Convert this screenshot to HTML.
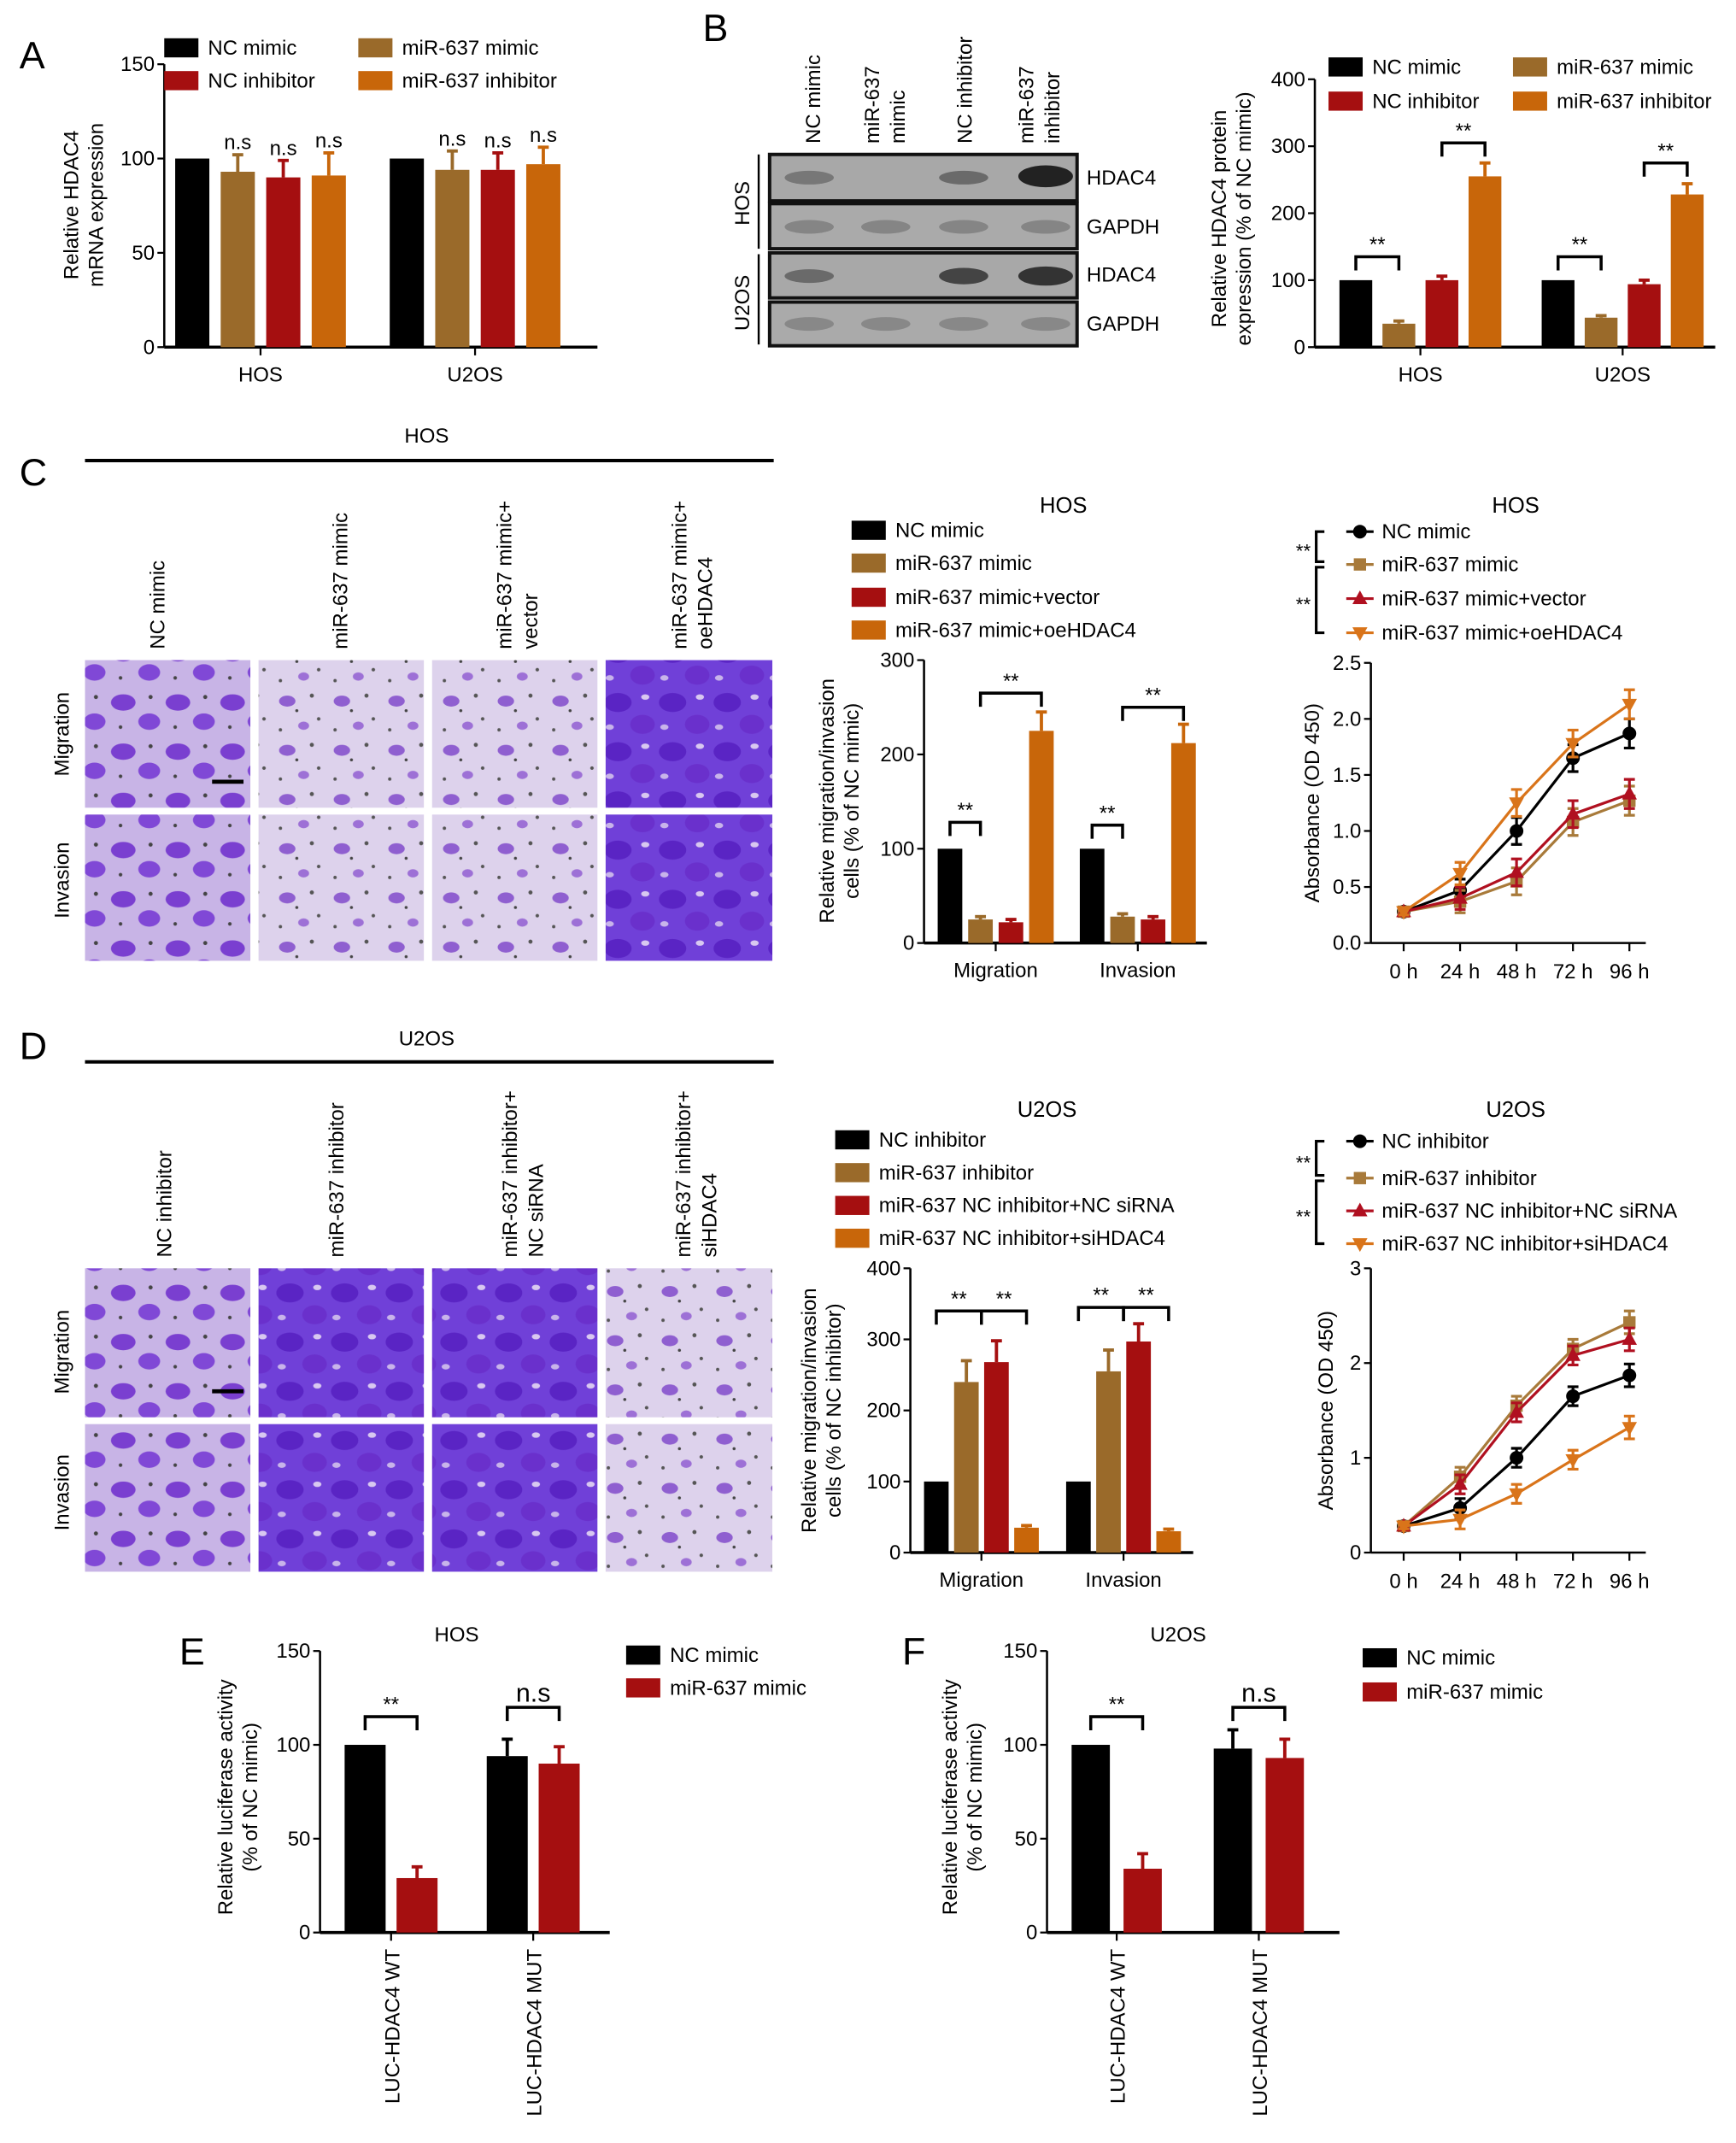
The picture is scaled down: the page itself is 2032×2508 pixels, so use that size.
<!DOCTYPE html>
<html><head><meta charset="utf-8"><style>
html,body{margin:0;padding:0;background:#fff;}
svg{display:block;font-family:"Liberation Sans",Arial,sans-serif;}
</style></head><body>
<svg id="fig" width="2032" height="2508" viewBox="0 0 1270 1568" xmlns="http://www.w3.org/2000/svg">
<defs>
<pattern id="cellsLight" width="40" height="36" patternUnits="userSpaceOnUse">
<rect width="40" height="36" fill="#ddd2ec"/>
<ellipse cx="10" cy="9" rx="6" ry="4" fill="#8f5fd0"/><circle cx="28" cy="5" r="1.5" fill="#555"/>
<circle cx="33" cy="22" r="1.3" fill="#555"/><ellipse cx="22" cy="27" rx="4" ry="3" fill="#9d70d6"/>
<circle cx="5" cy="30" r="1.2" fill="#555"/><circle cx="17" cy="16" r="1.1" fill="#444"/>
</pattern>
<pattern id="cellsMed" width="40" height="36" patternUnits="userSpaceOnUse">
<rect width="40" height="36" fill="#c8b4e6"/>
<ellipse cx="10" cy="10" rx="9" ry="6" fill="#7a3fd0"/><ellipse cx="29" cy="24" rx="8" ry="6" fill="#8048d6"/>
<circle cx="30" cy="6" r="1.5" fill="#444"/><circle cx="8" cy="28" r="1.3" fill="#444"/>
</pattern>
<pattern id="cellsDark" width="40" height="36" patternUnits="userSpaceOnUse">
<rect width="40" height="36" fill="#7040d8"/>
<ellipse cx="12" cy="10" rx="10" ry="7" fill="#5a24c4"/><ellipse cx="30" cy="26" rx="9" ry="7" fill="#6a30cc"/>
<ellipse cx="32" cy="6" rx="3" ry="2" fill="#d8c8f0"/><ellipse cx="6" cy="28" rx="3" ry="2" fill="#c8b4ea"/>
</pattern>
</defs>

<!-- panel letters -->
<text x="14" y="50" font-size="28">A</text>
<text x="514" y="30" font-size="28">B</text>
<text x="14" y="355" font-size="28">C</text>
<text x="14" y="775" font-size="28">D</text>
<text x="131" y="1218" font-size="28">E</text>
<text x="660" y="1218" font-size="28">F</text>

<!-- Western blot -->
<g font-size="15">
<g font-size="15">
<text transform="translate(600,105) rotate(-90)">NC mimic</text>
<text transform="translate(643,105) rotate(-90)">miR-637</text>
<text transform="translate(662,105) rotate(-90)">mimic</text>
<text transform="translate(711,105) rotate(-90)">NC inhibitor</text>
<text transform="translate(756,105) rotate(-90)">miR-637</text>
<text transform="translate(775,105) rotate(-90)">inhibitor</text>
</g>
<line x1="555" y1="113" x2="555" y2="182" stroke="#000" stroke-width="1.5"/>
<line x1="555" y1="186" x2="555" y2="252" stroke="#000" stroke-width="1.5"/>
<text transform="translate(548,165) rotate(-90)">HOS</text>
<text transform="translate(548,242) rotate(-90)">U2OS</text>
<rect x="563" y="113" width="225" height="34" fill="#a8a8a8" stroke="#111" stroke-width="2.5"/>
<rect x="563" y="149" width="225" height="33" fill="#aaa" stroke="#111" stroke-width="2.5"/>
<rect x="563" y="185" width="225" height="33" fill="#a8a8a8" stroke="#111" stroke-width="2.5"/>
<rect x="563" y="221" width="225" height="32" fill="#aaa" stroke="#111" stroke-width="2.5"/>
<ellipse cx="592" cy="130" rx="18" ry="5" fill="#777"/><ellipse cx="705" cy="130" rx="18" ry="5" fill="#6a6a6a"/><ellipse cx="765" cy="129" rx="20" ry="8" fill="#222"/>
<ellipse cx="592" cy="166" rx="18" ry="5" fill="#858585"/><ellipse cx="648" cy="166" rx="18" ry="5" fill="#858585"/><ellipse cx="705" cy="166" rx="18" ry="5" fill="#858585"/><ellipse cx="765" cy="166" rx="18" ry="5" fill="#858585"/>
<ellipse cx="592" cy="202" rx="18" ry="5" fill="#6a6a6a"/><ellipse cx="705" cy="202" rx="18" ry="6" fill="#444"/><ellipse cx="765" cy="202" rx="20" ry="7" fill="#333"/>
<ellipse cx="592" cy="237" rx="18" ry="5" fill="#888"/><ellipse cx="648" cy="237" rx="18" ry="5" fill="#888"/><ellipse cx="705" cy="237" rx="18" ry="5" fill="#888"/><ellipse cx="765" cy="237" rx="18" ry="5" fill="#888"/>
<text x="795" y="135">HDAC4</text>
<text x="795" y="171">GAPDH</text>
<text x="795" y="206">HDAC4</text>
<text x="795" y="242">GAPDH</text>
</g>

<!-- Panel C images -->
<g font-size="15">
<text x="312" y="324" text-anchor="middle">HOS</text>
<line x1="62" y1="337" x2="566" y2="337" stroke="#000" stroke-width="2.5"/>
<text transform="translate(120,475) rotate(-90)">NC mimic</text>
<text transform="translate(254,475) rotate(-90)">miR-637 mimic</text>
<text transform="translate(374,475) rotate(-90)">miR-637 mimic+</text>
<text transform="translate(393,475) rotate(-90)">vector</text>
<text transform="translate(502,475) rotate(-90)">miR-637 mimic+</text>
<text transform="translate(521,475) rotate(-90)">oeHDAC4</text>
<text transform="translate(50,568) rotate(-90)">Migration</text>
<text transform="translate(50,672) rotate(-90)">Invasion</text>
<rect x="62" y="483" width="121" height="108" fill="url(#cellsMed)"/>
<rect x="189" y="483" width="121" height="108" fill="url(#cellsLight)"/>
<rect x="316" y="483" width="121" height="108" fill="url(#cellsLight)"/>
<rect x="443" y="483" width="122" height="108" fill="url(#cellsDark)"/>
<rect x="62" y="596" width="121" height="107" fill="url(#cellsMed)"/>
<rect x="189" y="596" width="121" height="107" fill="url(#cellsLight)"/>
<rect x="316" y="596" width="121" height="107" fill="url(#cellsLight)"/>
<rect x="443" y="596" width="122" height="107" fill="url(#cellsDark)"/>
<line x1="155" y1="572" x2="178" y2="572" stroke="#000" stroke-width="3"/>
</g>

<!-- Panel D images -->
<g font-size="15">
<text x="312" y="765" text-anchor="middle">U2OS</text>
<line x1="62" y1="777" x2="566" y2="777" stroke="#000" stroke-width="2.5"/>
<text transform="translate(125,920) rotate(-90)">NC inhibitor</text>
<text transform="translate(251,920) rotate(-90)">miR-637 inhibitor</text>
<text transform="translate(378,920) rotate(-90)">miR-637 inhibitor+</text>
<text transform="translate(397,920) rotate(-90)">NC siRNA</text>
<text transform="translate(505,920) rotate(-90)">miR-637 inhibitor+</text>
<text transform="translate(524,920) rotate(-90)">siHDAC4</text>
<text transform="translate(50,1020) rotate(-90)">Migration</text>
<text transform="translate(50,1120) rotate(-90)">Invasion</text>
<rect x="62" y="928" width="121" height="109" fill="url(#cellsMed)"/>
<rect x="189" y="928" width="121" height="109" fill="url(#cellsDark)"/>
<rect x="316" y="928" width="121" height="109" fill="url(#cellsDark)"/>
<rect x="443" y="928" width="122" height="109" fill="url(#cellsLight)"/>
<rect x="62" y="1042" width="121" height="108" fill="url(#cellsMed)"/>
<rect x="189" y="1042" width="121" height="108" fill="url(#cellsDark)"/>
<rect x="316" y="1042" width="121" height="108" fill="url(#cellsDark)"/>
<rect x="443" y="1042" width="122" height="108" fill="url(#cellsLight)"/>
<line x1="155" y1="1018" x2="178" y2="1018" stroke="#000" stroke-width="3"/>
</g>
</svg>

<script>
// ---------- data ----------
var colorsA = ['#000000', '#9a6a2a', '#a50f10', '#c8660a'];
var namesA = ['NC mimic', 'NC inhibitor', 'miR-637 mimic', 'miR-637 inhibitor'];
var catsA = ['HOS', 'U2OS'];
var valsA = [[100, 93, 90, 91], [100, 94, 94, 97]];
var errsA = [[0, 9, 9, 12], [0, 10, 9, 9]];
var ticksA = [0, 50, 100, 150];

var catsB = ['HOS', 'U2OS'];
var valsB = [[100, 35, 100, 255], [100, 44, 94, 228]];
var errsB = [[0, 4, 6, 20], [0, 3, 6, 16]];
var ticksB = [0, 100, 200, 300, 400];

var namesC = ['NC mimic', 'miR-637 mimic', 'miR-637 mimic+vector', 'miR-637 mimic+oeHDAC4'];
var catsC = ['Migration', 'Invasion'];
var valsC = [[100, 25, 22, 225], [100, 28, 25, 212]];
var errsC = [[0, 3, 3, 20], [0, 3, 3, 20]];
var ticksC = [0, 100, 200, 300];

var timesC = ['0 h', '24 h', '48 h', '72 h', '96 h'];
var lineC_nc = [0.28, 0.47, 1.0, 1.65, 1.87];
var lineC_mimic = [0.28, 0.37, 0.55, 1.08, 1.27];
var lineC_vector = [0.28, 0.40, 0.63, 1.15, 1.33];
var lineC_oe = [0.28, 0.62, 1.25, 1.78, 2.13];
var lineC_err = [0.03, 0.1, 0.12, 0.12, 0.13];
var ticksLC = [0.0, 0.5, 1.0, 1.5, 2.0, 2.5];

var namesD = ['NC inhibitor', 'miR-637 inhibitor', 'miR-637 NC inhibitor+NC siRNA', 'miR-637 NC inhibitor+siHDAC4'];
var catsD = ['Migration', 'Invasion'];
var valsD = [[100, 240, 268, 35], [100, 255, 297, 30]];
var errsD = [[0, 30, 30, 3], [0, 30, 25, 3]];
var ticksD = [0, 100, 200, 300, 400];

var lineD_nc = [0.28, 0.47, 1.0, 1.65, 1.87];
var lineD_inh = [0.28, 0.80, 1.55, 2.15, 2.43];
var lineD_sinc = [0.28, 0.72, 1.48, 2.08, 2.25];
var lineD_si = [0.28, 0.35, 0.62, 0.98, 1.32];
var lineD_err = [0.03, 0.1, 0.1, 0.1, 0.12];
var ticksLD = [0, 1, 2, 3];

var namesE = ['NC mimic', 'miR-637 mimic'];
var catsE = ['LUC-HDAC4 WT', 'LUC-HDAC4 MUT'];
var valsE = [[100, 29], [94, 90]];
var errsE = [[0, 6], [9, 9]];
var valsF = [[100, 34], [98, 93]];
var errsF = [[0, 8], [10, 10]];
var ticksE = [0, 50, 100, 150];

// ---------- helpers ----------
var svg = document.getElementById('fig');
var NS = 'http://www.w3.org/2000/svg';
function mk(tag, attrs, parent) {
  var el = document.createElementNS(NS, tag);
  for (var k in attrs) el.setAttribute(k, attrs[k]);
  (parent || svg).appendChild(el);
  return el;
}
function txt(x, y, s, size, anchor, parent, rot) {
  var t = mk('text', {x: x, y: y, 'font-size': size, 'text-anchor': anchor || 'start'}, parent);
  if (rot) { t.setAttribute('transform', 'rotate(' + rot + ' ' + x + ' ' + y + ')'); }
  t.textContent = s;
  return t;
}

function barChart(o) {
  var g = mk('g', {});
  
  
  var sy = function (v) { return o.y0 - (v / o.yMax) * (o.y0 - o.yTop); };
  var bx = function (gi, i) { return o.first + gi * o.groupGap + i * o.step; };
  mk('line', {x1: o.ax, y1: o.yTop, x2: o.ax, y2: o.y0, stroke: '#000', 'stroke-width': 1.6}, g);
  mk('line', {x1: o.ax, y1: o.y0, x2: o.axEnd, y2: o.y0, stroke: '#000', 'stroke-width': 2.2}, g);
  o.ticks.forEach(function (t) {
    var y = sy(t);
    mk('line', {x1: o.ax - 5, y1: y, x2: o.ax, y2: y, stroke: '#000', 'stroke-width': 1.4}, g);
    var tl = txt(o.ax - 7, y + 5, String(t), o.fs, 'end', g);
    
    
  });
  o.vals.forEach(function (grp, gi) {
    var n = grp.length;
    var cx = (bx(gi, 0) + bx(gi, n - 1) + o.w) / 2;
    mk('line', {x1: cx, y1: o.y0, x2: cx, y2: o.y0 + 6, stroke: '#000', 'stroke-width': 1.4}, g);
    var cl;
    if (o.rotCats) {
      cl = txt(cx + 6, o.y0 + 12, o.cats[gi], o.fs, 'end', g, -90);
    } else {
      cl = txt(cx, o.y0 + 25, o.cats[gi], o.fs, 'middle', g);
    }
    
    
    grp.forEach(function (v, i) {
      var x = bx(gi, i), y = sy(v);
      var r = mk('rect', {x: x, y: y, width: o.w, height: o.y0 - y, fill: o.colors[i]}, g);
      
      
      var e = o.errs[gi][i];
      if (e > 0) {
        var ey = sy(v + e), mx = x + o.w / 2;
        mk('line', {x1: mx, y1: y, x2: mx, y2: ey, stroke: o.colors[i], 'stroke-width': 2.4}, g);
        mk('line', {x1: mx - 4, y1: ey, x2: mx + 4, y2: ey, stroke: o.colors[i], 'stroke-width': 2.4}, g);
      }
    });
  });
  (o.brackets || []).forEach(function (b) {
    var gi = b[0];
    var xa = bx(gi, 0) + b[1] * o.step + o.w / 2;
    var xb = bx(gi, 0) + b[2] * o.step + o.w / 2;
    var y = sy(b[3]);
    var p = mk('path', {d: 'M' + xa + ' ' + (y + 10) + 'V' + y + 'H' + xb + 'V' + (y + 10), fill: 'none', stroke: '#000', 'stroke-width': 2.2}, g);
    
    
    var s = txt((xa + xb) / 2, y - 4, b[4], b[4] === 'n.s' ? o.fs + 4 : o.fs, 'middle', g);
    
    
  });
  (o.nsMarks || []).forEach(function (m) {
    var x = bx(m[0], m[1]) + o.w / 2;
    var v = o.vals[m[0]][m[1]] + o.errs[m[0]][m[1]];
    var s = txt(x, sy(v) - 4, 'n.s', o.fs, 'middle', g);
    
    
  });
  return g;
}

function legendBoxes(items, colors, pos, fs, name) {
  var g = mk('g', {});
  
  
  items.forEach(function (s, i) {
    var p = pos[i];
    mk('rect', {x: p[0], y: p[1] - 12, width: 25, height: 14, fill: colors[i]}, g);
    var t = txt(p[0] + 32, p[1], s, fs, 'start', g);
    
    
  });
}

function marker(kind, x, y, c, parent) {
  if (kind === 'circle') return mk('circle', {cx: x, cy: y, r: 5, fill: c}, parent);
  if (kind === 'square') return mk('rect', {x: x - 4.5, y: y - 4.5, width: 9, height: 9, fill: c}, parent);
  if (kind === 'up') return mk('path', {d: 'M' + x + ' ' + (y - 6) + 'L' + (x + 5.5) + ' ' + (y + 4) + 'L' + (x - 5.5) + ' ' + (y + 4) + 'Z', fill: c}, parent);
  return mk('path', {d: 'M' + x + ' ' + (y + 6) + 'L' + (x + 5.5) + ' ' + (y - 4) + 'L' + (x - 5.5) + ' ' + (y - 4) + 'Z', fill: c}, parent);
}

function lineChart(o) {
  var g = mk('g', {});
  
  
  var sy = function (v) { return o.y0 - (v / o.yMax) * (o.y0 - o.yTop); };
  var sx = function (i) { return o.x0 + i * o.dx; };
  mk('line', {x1: o.ax, y1: o.yTop, x2: o.ax, y2: o.y0, stroke: '#000', 'stroke-width': 1.6}, g);
  mk('line', {x1: o.ax, y1: o.y0, x2: sx(o.times.length - 1) + 12, y2: o.y0, stroke: '#000', 'stroke-width': 1.6}, g);
  o.ticks.forEach(function (t) {
    var y = sy(t);
    mk('line', {x1: o.ax - 5, y1: y, x2: o.ax, y2: y, stroke: '#000', 'stroke-width': 1.4}, g);
    var tl = txt(o.ax - 7, y + 5, o.fmt(t), 15, 'end', g);
    
    
  });
  o.times.forEach(function (s, i) {
    mk('line', {x1: sx(i), y1: o.y0, x2: sx(i), y2: o.y0 + 6, stroke: '#000', 'stroke-width': 1.4}, g);
    var tl = txt(sx(i), o.y0 + 26, s, 15, 'middle', g);
    
    
  });
  o.series.forEach(function (se, si) {
    var pts = se.map(function (v, i) { return sx(i) + ',' + sy(v); }).join(' ');
    var pl = mk('polyline', {points: pts, fill: 'none', stroke: o.colors[si], 'stroke-width': 2}, g);
    
    
    se.forEach(function (v, i) {
      var e = o.err[i], x = sx(i);
      mk('path', {d: 'M' + (x - 4) + ' ' + sy(v + e) + 'H' + (x + 4) + 'M' + x + ' ' + sy(v + e) + 'V' + sy(v - e) + 'M' + (x - 4) + ' ' + sy(v - e) + 'H' + (x + 4), stroke: o.colors[si], 'stroke-width': 2, fill: 'none'}, g);
      var m = marker(o.markers[si], x, sy(v), o.colors[si], g);
      
      
    });
  });
  // legend
  o.names.forEach(function (s, i) {
    var y = o.legY[i];
    mk('line', {x1: o.legX - 10, y1: y - 5, x2: o.legX + 10, y2: y - 5, stroke: o.colors[i], 'stroke-width': 2}, g);
    marker(o.markers[i], o.legX, y - 5, o.colors[i], g);
    var t = txt(o.legX + 16, y, s, 15, 'start', g);
    
    
  });
  var bx = o.legX - 32;
  mk('path', {d: 'M' + (bx + 6) + ' ' + (o.legY[0] - 5) + 'H' + bx + 'V' + (o.legY[1] - 7) + 'H' + (bx + 6), fill: 'none', stroke: '#000', 'stroke-width': 2}, g);
  mk('path', {d: 'M' + (bx + 6) + ' ' + (o.legY[1] - 3) + 'H' + bx + 'V' + (o.legY[3] - 5) + 'H' + (bx + 6), fill: 'none', stroke: '#000', 'stroke-width': 2}, g);
  txt(bx - 4, (o.legY[0] + o.legY[1]) / 2 + 2, '**', 14, 'end', g);
  txt(bx - 4, (o.legY[1] + o.legY[3]) / 2 + 4, '**', 14, 'end', g);
  var tt = txt(o.titleX, o.titleY, o.title, 16, 'middle', g);
  
  
  var yt = txt(o.ytX, (o.yTop + o.y0) / 2, 'Absorbance (OD 450)', 15, 'middle', g, -90);
  
  
}

function yTitle(x, yc, lines, name) {
  lines.forEach(function (s, i) {
    var t = txt(x + i * 18, yc, s, 15, 'middle', null, -90);
    
    
  });
}

// ---------- Panel A ----------
var colA = ['#000000', '#9a6a2a', '#a50f10', '#c8660a'];
barChart({name: 'chart-a-mrna', ax: 120, axEnd: 437, y0: 254, yTop: 47, yMax: 150, ticks: ticksA, first: 128, step: 33.3, groupGap: 157, w: 25,
  vals: valsA, errs: errsA, cats: catsA, colors: colA, fs: 15,
  nsMarks: [[0, 1], [0, 2], [0, 3], [1, 1], [1, 2], [1, 3]]});
legendBoxes(namesA, ['#000', '#a50f10', '#9a6a2a', '#c8660a'], [[120, 40], [120, 64], [262, 40], [262, 64]], 15, 'legend-a');
yTitle(57, 150, ['Relative HDAC4', 'mRNA expression'], 'y-axis-title');

// ---------- Panel B ----------
barChart({name: 'chart-b-protein', ax: 962, axEnd: 1255, y0: 254, yTop: 58, yMax: 400, ticks: ticksB, first: 980, step: 31.5, groupGap: 148, w: 24,
  vals: valsB, errs: errsB, cats: catsB, colors: colA, fs: 15,
  brackets: [[0, 0, 1, 135, '**'], [0, 2, 3, 305, '**'], [1, 0, 1, 135, '**'], [1, 2, 3, 275, '**']]});
legendBoxes(namesA, ['#000', '#a50f10', '#9a6a2a', '#c8660a'], [[972, 54], [972, 79], [1107, 54], [1107, 79]], 15, 'legend-b');
yTitle(897, 160, ['Relative HDAC4 protein', 'expression (% of NC mimic)'], 'y-axis-title');

// ---------- Panel C bar ----------
barChart({name: 'chart-c-migration', ax: 676, axEnd: 883, y0: 690, yTop: 483, yMax: 300, ticks: ticksC, first: 686, step: 22.3, groupGap: 104, w: 18,
  vals: valsC, errs: errsC, cats: catsC, colors: colA, fs: 15,
  brackets: [[0, 0, 1, 128, '**'], [0, 1, 3, 265, '**'], [1, 0, 1, 125, '**'], [1, 1, 3, 250, '**']]});
legendBoxes(namesC, colA, [[623, 393], [623, 417], [623, 442], [623, 466]], 15, 'legend-c');
txt(778, 375, 'HOS', 16, 'middle');
yTitle(610, 586, ['Relative migration/invasion', 'cells (% of NC mimic)'], 'y-axis-title');

lineChart({name: 'chart-c-proliferation', ax: 1003, y0: 690, yTop: 485, yMax: 2.5, ticks: ticksLC, fmt: function (t) { return t.toFixed(1); },
  x0: 1027, dx: 41.3, times: timesC, series: [lineC_nc, lineC_mimic, lineC_vector, lineC_oe], err: lineC_err,
  colors: ['#000', '#a87a3a', '#b01020', '#d9741a'], markers: ['circle', 'square', 'up', 'down'],
  names: namesC, legX: 995, legY: [394, 418, 443, 468], title: 'HOS', titleX: 1109, titleY: 375, ytX: 965});

// ---------- Panel D bar ----------
barChart({name: 'chart-d-migration', ax: 666, axEnd: 873, y0: 1136, yTop: 928, yMax: 400, ticks: ticksD, first: 676, step: 22, groupGap: 104, w: 18,
  vals: valsD, errs: errsD, cats: catsD, colors: colA, fs: 15,
  brackets: [[0, 0, 1.5, 340, '**'], [0, 1.5, 3, 340, '**'], [1, 0, 1.5, 345, '**'], [1, 1.5, 3, 345, '**']]});
legendBoxes(namesD, colA, [[611, 839], [611, 863], [611, 887], [611, 911]], 15, 'legend-d');
txt(766, 817, 'U2OS', 16, 'middle');
yTitle(597, 1032, ['Relative migration/invasion', 'cells (% of NC inhibitor)'], 'y-axis-title');

lineChart({name: 'chart-d-proliferation', ax: 1003, y0: 1136, yTop: 928, yMax: 3, ticks: ticksLD, fmt: function (t) { return String(t); },
  x0: 1027, dx: 41.3, times: timesC, series: [lineD_nc, lineD_inh, lineD_sinc, lineD_si], err: lineD_err,
  colors: ['#000', '#a87a3a', '#b01020', '#d9741a'], markers: ['circle', 'square', 'up', 'down'],
  names: namesD, legX: 995, legY: [840, 867, 891, 915], title: 'U2OS', titleX: 1109, titleY: 817, ytX: 975});

// ---------- Panel E / F ----------
barChart({name: 'chart-e-luciferase-hos', ax: 234, axEnd: 446, y0: 1414, yTop: 1208, yMax: 150, ticks: ticksE, first: 252, step: 38, groupGap: 104, w: 30,
  vals: valsE, errs: errsE, cats: catsE, colors: ['#000', '#a50f10'], fs: 15, rotCats: true,
  brackets: [[0, 0, 1, 115, '**'], [1, 0, 1, 120, 'n.s']]});
legendBoxes(namesE, ['#000', '#a50f10'], [[458, 1216], [458, 1240]], 15, 'legend-e');
txt(334, 1201, 'HOS', 15, 'middle');
yTitle(170, 1315, ['Relative luciferase activity', '(% of NC mimic)'], 'y-axis-title');

barChart({name: 'chart-f-luciferase-u2os', ax: 766, axEnd: 980, y0: 1414, yTop: 1208, yMax: 150, ticks: ticksE, first: 784, step: 38, groupGap: 104, w: 28,
  vals: valsF, errs: errsF, cats: catsE, colors: ['#000', '#a50f10'], fs: 15, rotCats: true,
  brackets: [[0, 0, 1, 115, '**'], [1, 0, 1, 120, 'n.s']]});
legendBoxes(namesE, ['#000', '#a50f10'], [[997, 1218], [997, 1243]], 15, 'legend-f');
txt(862, 1201, 'U2OS', 15, 'middle');
yTitle(700, 1315, ['Relative luciferase activity', '(% of NC mimic)'], 'y-axis-title');
</script>
</body></html>
